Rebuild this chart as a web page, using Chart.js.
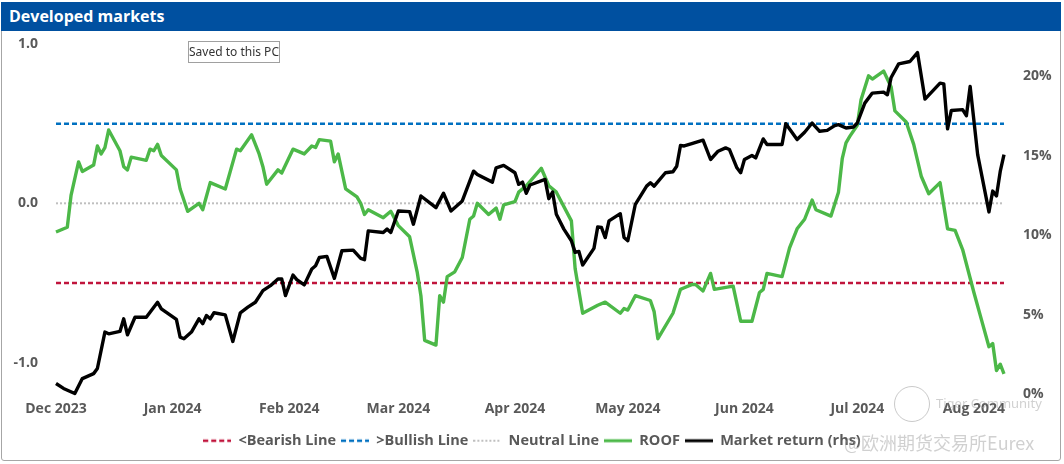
<!DOCTYPE html>
<html>
<head>
<meta charset="utf-8">
<script src="https://cdn.jsdelivr.net/npm/chart.js@4"></script>
<style>
  body { margin: 0; background: #fff; overflow: hidden; }
  #wrap { position: relative; width: 1064px; height: 464px; }
  #frame { position: absolute; left: 1px; top: 2px; width: 1058px; height: 457px; border: 1px solid #a6a6a6; border-radius: 3px; }
  #title { position: absolute; left: 1px; top: 2px; width: 1060px; height: 29px; background: #0050a0; color: #fff;
           font: bold 16px "Open Sans"; line-height: 28px; padding-left: 8px; box-sizing: border-box; }
  #tip { position: absolute; left: 188px; top: 41px; width: 92px; height: 22px; box-sizing: border-box; border: 1px solid #a0a0a0;
         background: #fff; font: 12px "Noto Sans"; color: #333; line-height: 20px; text-align: center; }
  .wm { position: absolute; color: rgba(150,150,150,0.45); white-space: nowrap; }
  #logo { position: absolute; left: 894px; top: 386px; width: 34px; height: 34px; border: 1px solid rgba(150,150,150,0.5); border-radius: 50%; }
  canvas { position: absolute; left: 0; top: 0; }
</style>
</head>
<body>
<div id="wrap">
  <div id="frame"></div>
  <canvas id="chart" width="1064" height="464"></canvas>
  <div id="title">Developed markets</div>
  <div id="tip">Saved to this PC</div>
  <div id="logo"></div>
  <div class="wm" style="left:936px;top:394px;font:13px 'Noto Sans';">Tiger Community</div>
  <div class="wm" style="left:844px;top:429px;font:18px 'Noto Sans CJK SC';">@欧洲期货交易所Eurex</div>
</div>
<script>
// x values are days since 1 Dec 2023
const monthTicks = [0, 31, 62, 91, 122, 152, 183, 213, 244];
const monthLabels = ['Dec 2023', 'Jan 2024', 'Feb 2024', 'Mar 2024', 'Apr 2024', 'May 2024', 'Jun 2024', 'Jul 2024', 'Aug 2024'];

const roofDays = [0,3,4,6,7,10,11,12,13,14,17,18,19,20,24,25,26,27,28,32,33,35,38,39,41,45,48,49,52,54,55,56,59,60,63,66,68,69,70,73,74,75,77,80,81,82,83,87,89,91,94,96,97,98,101,102,103,104,106,108,110,111,112,115,117,118,119,122,123,125,129,131,133,137,138,140,144,146,150,151,152,154,158,159,160,164,166,167,169,170,172,174,175,180,182,185,187,188,189,193,195,197,199,201,202,206,208,209,210,211,213,214,216,217,220,222,223,226,228,230,232,235,237,239,241,244,246,248,249,250,251,252];
const roofValues = [-0.18,-0.15,0.05,0.26,0.20,0.24,0.36,0.31,0.35,0.46,0.33,0.23,0.21,0.29,0.27,0.34,0.33,0.37,0.30,0.21,0.09,-0.05,0.00,-0.04,0.13,0.09,0.34,0.33,0.43,0.31,0.23,0.12,0.21,0.19,0.34,0.31,0.36,0.35,0.40,0.39,0.26,0.31,0.09,0.04,0.00,-0.07,-0.04,-0.09,-0.05,-0.14,-0.21,-0.43,-0.58,-0.86,-0.89,-0.58,-0.62,-0.46,-0.43,-0.34,-0.10,-0.08,0.00,-0.07,-0.03,-0.10,-0.01,0.01,0.07,0.11,0.22,0.11,0.07,-0.11,-0.41,-0.69,-0.64,-0.62,-0.69,-0.66,-0.67,-0.58,-0.61,-0.68,-0.85,-0.69,-0.54,-0.53,-0.51,-0.51,-0.55,-0.44,-0.54,-0.52,-0.74,-0.74,-0.56,-0.54,-0.44,-0.46,-0.28,-0.16,-0.10,0.02,-0.04,-0.08,0.07,0.28,0.38,0.42,0.49,0.65,0.80,0.78,0.83,0.73,0.58,0.51,0.37,0.17,0.06,0.13,-0.16,-0.17,-0.29,-0.56,-0.73,-0.90,-0.88,-1.05,-1.01,-1.07];

const marketDays = [0,2,5,7,10,11,13,14,17,18,19,21,24,27,28,32,33,34,36,38,39,40,41,42,45,47,49,51,53,55,57,59,60,61,63,64,66,68,69,70,72,74,76,79,81,82,83,87,88,89,91,94,95,97,101,103,105,108,111,112,116,117,119,122,123,124,125,126,130,131,132,133,135,137,138,139,140,143,144,145,146,147,150,151,152,154,157,158,159,162,164,165,166,167,169,172,174,176,178,179,181,182,183,185,186,188,189,193,194,197,199,201,203,205,207,208,210,212,213,215,217,220,221,222,224,227,229,231,235,236,237,238,241,242,243,245,248,249,250,251,252];
const marketValues = [0.69,0.38,0.06,1.00,1.31,1.63,3.92,3.81,3.96,4.75,3.75,4.85,4.85,5.79,5.38,4.71,3.60,3.50,3.92,4.75,4.44,4.96,4.75,5.13,5.00,3.33,5.13,5.48,5.79,6.52,6.83,7.25,7.25,6.21,7.50,7.21,6.88,7.88,8.08,8.60,8.67,7.29,9.02,9.06,8.54,8.46,10.27,10.17,10.38,10.17,11.52,11.48,10.69,12.46,11.73,12.63,11.52,12.15,14.02,13.81,13.33,14.23,14.38,13.92,13.19,13.33,12.63,13.15,13.50,12.29,12.71,11.31,10.38,9.65,8.92,8.98,8.13,9.17,10.52,10.48,9.85,10.90,11.35,9.85,9.65,11.94,13.08,13.29,13.08,13.92,13.98,14.33,15.63,15.60,15.75,15.96,14.75,15.27,15.48,15.38,14.23,13.92,14.75,15.00,14.85,16.04,15.69,15.69,17.00,16.00,16.46,17.04,16.52,16.58,16.88,16.94,16.73,16.79,17.04,18.29,18.92,18.98,18.81,19.90,20.75,20.90,21.46,18.54,19.54,19.50,16.67,17.83,17.88,17.50,19.33,15.06,11.46,12.77,12.46,14.00,15.06];

const bearishLevel = -0.5;
const bullishLevel = 0.5;
const neutralLevel = 0;
const lastDay = 252;

const leftTicks = [-1, 0, 1];
const rightTicks = [0, 5, 10, 15, 20];

function toPoints(xs, ys) {
  return xs.map((x, i) => ({ x: x, y: ys[i] }));
}
function flat(level) {
  return [{ x: 0, y: level }, { x: lastDay, y: level }];
}

// small line sample used as the legend symbol
function legendLine(color, width, dash) {
  const c = document.createElement('canvas');
  c.width = 28; c.height = 6;
  const g = c.getContext('2d');
  g.strokeStyle = color;
  g.lineWidth = width;
  g.setLineDash(dash);
  g.beginPath();
  g.moveTo(0, 3);
  g.lineTo(28, 3);
  g.stroke();
  return c;
}

const tickFont = { family: 'Open Sans', size: 14, weight: 'bold' };
const legendFont = { family: 'Open Sans', size: 14.5, weight: 'bold' };

const ctx = document.getElementById('chart').getContext('2d');
new Chart(ctx, {
  type: 'line',
  data: {
    datasets: [
      { label: '<Bearish Line', data: flat(bearishLevel), yAxisID: 'y', borderColor: '#c0143c', borderWidth: 2.5, borderDash: [5, 3], order: 2,
        pointStyle: legendLine('#c0143c', 2.5, [5, 3]) },
      { label: '>Bullish Line', data: flat(bullishLevel), yAxisID: 'y', borderColor: '#0070c0', borderWidth: 2.5, borderDash: [5, 3], order: 2,
        pointStyle: legendLine('#0070c0', 2.5, [5, 3]) },
      { label: 'Neutral Line', data: flat(neutralLevel), yAxisID: 'y', borderColor: '#bfbfbf', borderWidth: 2, borderDash: [2, 2], order: 2,
        pointStyle: legendLine('#bfbfbf', 2, [2, 2]) },
      { label: 'ROOF', data: toPoints(roofDays, roofValues), yAxisID: 'y', borderColor: '#4cb848', borderWidth: 3.4, order: 1,
        pointStyle: legendLine('#4cb848', 3, []) },
      { label: 'Market return (rhs)', data: toPoints(marketDays, marketValues), yAxisID: 'y2', borderColor: '#000000', borderWidth: 3.4, order: 0,
        pointStyle: legendLine('#000000', 3, []) }
    ]
  },
  options: {
    responsive: false,
    animation: false,
    events: [],
    layout: { padding: { top: 44, bottom: 6, left: 0, right: 0 } },
    elements: {
      point: { radius: 0 },
      line: { tension: 0, borderJoinStyle: 'round', borderCapStyle: 'butt', backgroundColor: 'rgba(0,0,0,0)' }
    },
    datasets: { line: { clip: false } },
    scales: {
      x: {
        type: 'linear', min: 0, max: lastDay,
        grid: { display: false, drawTicks: false }, border: { display: false },
        afterBuildTicks: s => { s.ticks = monthTicks.map(v => ({ value: v })); },
        afterFit: s => { s.height = 34; },
        ticks: { autoSkip: false, maxRotation: 0, padding: 6, color: '#595959', font: tickFont,
                 callback: v => monthLabels[monthTicks.indexOf(v)] }
      },
      y: {
        position: 'left', min: -1.2, max: 1.0,
        grid: { display: false, drawTicks: false }, border: { display: false },
        afterBuildTicks: s => { s.ticks = leftTicks.map(v => ({ value: v })); },
        afterFit: s => { s.width = 56; },
        ticks: { padding: 18, color: '#595959', font: tickFont, callback: v => v.toFixed(1) }
      },
      y2: {
        position: 'right', min: 0, max: 22,
        grid: { display: false, drawTicks: false }, border: { display: false },
        afterBuildTicks: s => { s.ticks = rightTicks.map(v => ({ value: v })); },
        afterFit: s => { s.width = 60; },
        ticks: { padding: 19, color: '#595959', font: tickFont, callback: v => v + '%' }
      }
    },
    plugins: {
      tooltip: { enabled: false },
      legend: {
        position: 'bottom',
        labels: {
          usePointStyle: true, pointStyleWidth: 28, boxHeight: 14, padding: 5,
          color: '#595959', font: legendFont,
          sort: (a, b) => a.datasetIndex - b.datasetIndex
        }
      }
    }
  }
});
</script>
</body>
</html>
